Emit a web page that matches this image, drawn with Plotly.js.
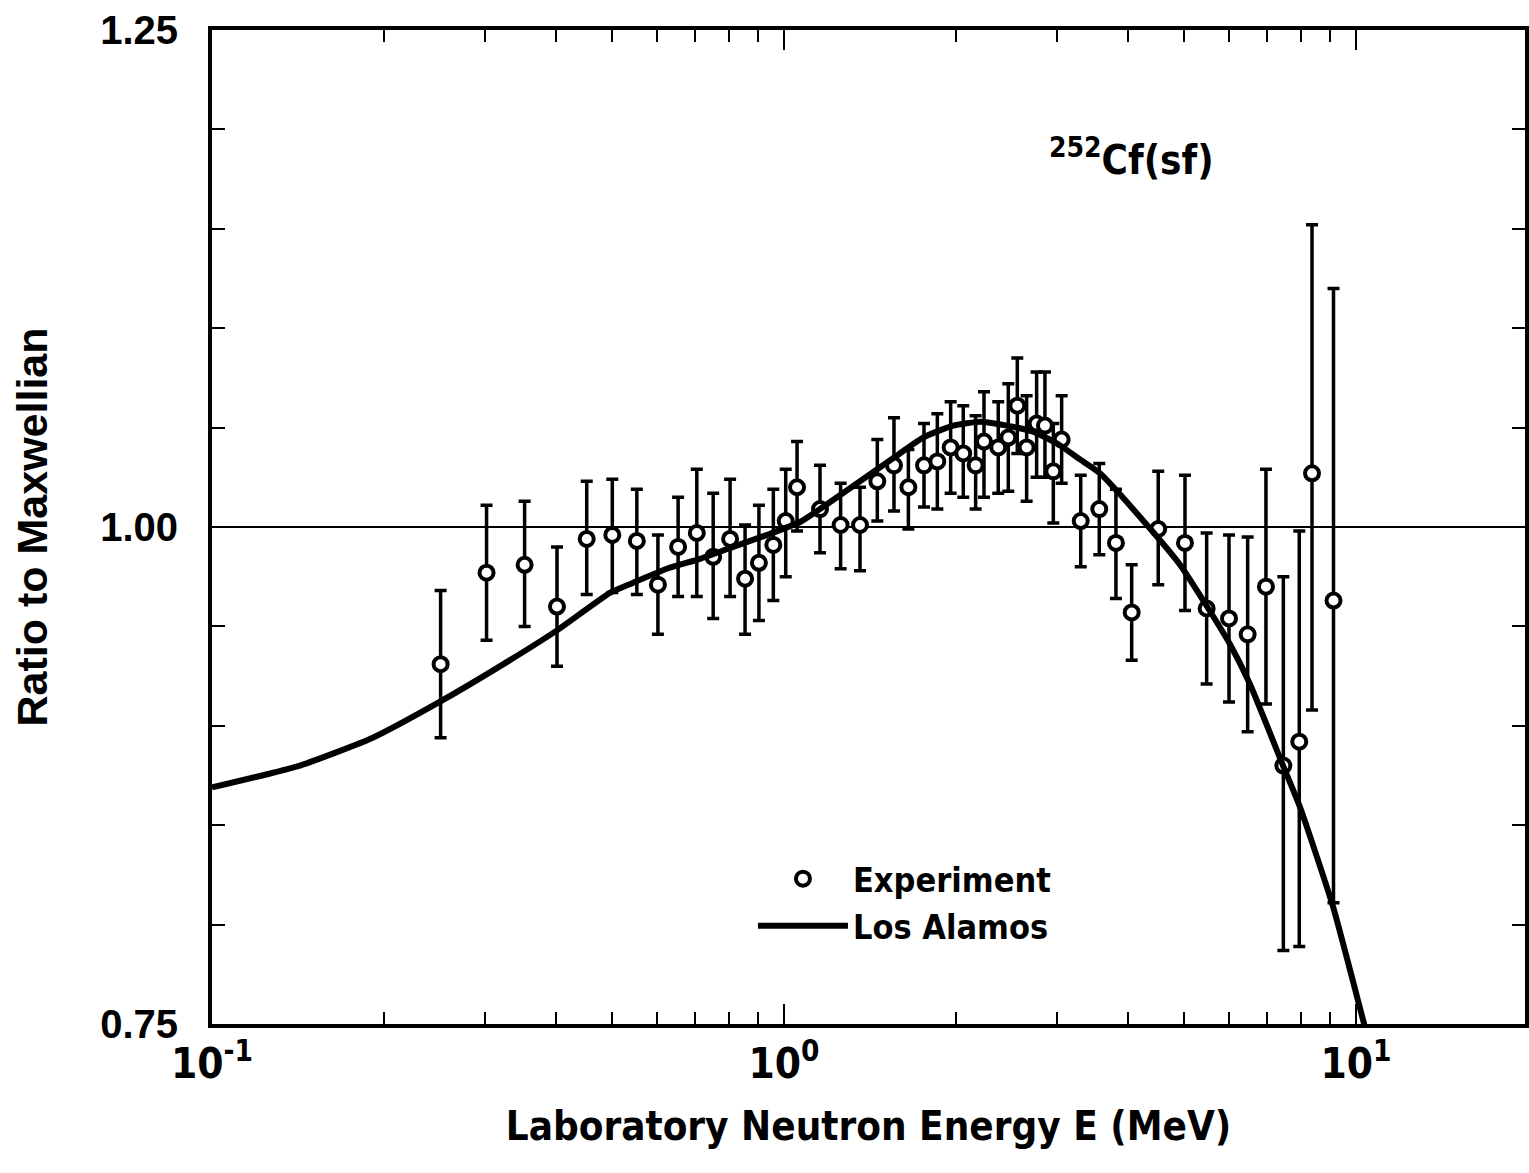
<!DOCTYPE html>
<html>
<head>
<meta charset="utf-8">
<script src="https://cdn.plot.ly/plotly-3.0.1.min.js"></script>
<style>
  html, body { margin: 0; padding: 0; background: #ffffff; }
  #chart { width: 1529px; height: 1173px; }
</style>
</head>
<body>
<div id="chart"></div>
<script>
// Experimental points: laboratory neutron energy (MeV) and ratio to Maxwellian
const energy = [0.251, 0.302, 0.352, 0.401, 0.452, 0.501, 0.553, 0.602, 0.653, 0.704,
  0.752, 0.805, 0.855, 0.904, 0.958, 1.007, 1.054, 1.156, 1.256, 1.358,
  1.456, 1.557, 1.650, 1.757, 1.854, 1.956, 2.058, 2.163, 2.237, 2.369,
  2.467, 2.558, 2.656, 2.765, 2.859, 2.957, 3.058, 3.302, 3.558, 3.805,
  4.054, 4.511, 5.024, 5.482, 5.998, 6.466, 6.960, 7.465, 7.959, 8.378, 9.135];
const ratio = [0.931, 0.977, 0.981, 0.960, 0.994, 0.996, 0.993, 0.971, 0.990, 0.997,
  0.985, 0.994, 0.974, 0.982, 0.991, 1.003, 1.020, 1.009, 1.001, 1.001,
  1.023, 1.031, 1.020, 1.031, 1.033, 1.040, 1.037, 1.031, 1.043, 1.040,
  1.045, 1.061, 1.040, 1.052, 1.051, 1.028, 1.044, 1.003, 1.009, 0.992,
  0.957, 0.999, 0.992, 0.959, 0.954, 0.946, 0.970, 0.880, 0.892, 1.027, 0.963];
const errUp = [0.037, 0.034, 0.032, 0.030, 0.029, 0.028, 0.026, 0.025, 0.025, 0.032,
  0.032, 0.030, 0.027, 0.029, 0.028, 0.026, 0.023, 0.022, 0.021, 0.019,
  0.021, 0.024, 0.019, 0.021, 0.024, 0.023, 0.024, 0.025, 0.025, 0.023,
  0.027, 0.024, 0.026, 0.026, 0.027, 0.024, 0.022, 0.023, 0.023, 0.027,
  0.024, 0.029, 0.034, 0.038, 0.042, 0.049, 0.059, 0.095, 0.106, 0.125, 0.157];
const errDown = [0.037, 0.034, 0.031, 0.030, 0.028, 0.029, 0.027, 0.025, 0.025, 0.032,
  0.031, 0.029, 0.028, 0.029, 0.028, 0.028, 0.022, 0.022, 0.022, 0.023,
  0.020, 0.023, 0.021, 0.021, 0.024, 0.023, 0.022, 0.022, 0.028, 0.023,
  0.027, 0.024, 0.027, 0.027, 0.026, 0.026, 0.022, 0.023, 0.023, 0.028,
  0.024, 0.028, 0.034, 0.038, 0.042, 0.049, 0.059, 0.093, 0.103, 0.119, 0.152];

// Los Alamos model curve
const curveE = [0.100, 0.1425, 0.191, 0.250, 0.319, 0.401, 0.497, 0.545, 0.624, 0.713,
  0.815, 0.934, 1.067, 1.156, 1.358, 1.576, 1.750, 1.975, 2.202, 2.454,
  2.725, 3.002, 3.293, 3.568, 4.311, 4.924, 5.490, 6.022, 6.525, 7.455,
  7.984, 9.118, 10.29, 10.58];
const curveR = [0.869, 0.880, 0.894, 0.912, 0.930, 0.948, 0.967, 0.972, 0.979, 0.984,
  0.990, 0.996, 1.0025, 1.009, 1.023, 1.036, 1.045, 1.051, 1.053, 1.051,
  1.048, 1.042, 1.034, 1.027, 1.001, 0.981, 0.960, 0.941, 0.921, 0.880,
  0.859, 0.809, 0.752, 0.739];

// Axis ticks
const xMajorTicks = [0.1, 1, 10];
const xMajorLabels = ['10<sup>-1</sup>', '10<sup>0</sup>', '10<sup>1</sup>'];
const xMinorTicks = [0.2, 0.3, 0.4, 0.5, 0.6, 0.7, 0.8, 0.9, 2, 3, 4, 5, 6, 7, 8, 9];
const yMajorTicks = [0.75, 1.00, 1.25];
const yMajorLabels = ['0.75', '1.00', '1.25'];

const narrow = 'DejaVu Sans Condensed, Liberation Sans Narrow, Liberation Sans, Arial, sans-serif';
const wide = 'Liberation Sans, Arial, Helvetica, sans-serif';

const traces = [
  {
    x: energy, y: ratio, type: 'scatter', mode: 'markers', name: 'Experiment',
    marker: { symbol: 'circle', size: 14, color: '#fff', line: { width: 4, color: '#000' } },
    error_y: { type: 'data', symmetric: false, array: errUp, arrayminus: errDown,
      color: '#000', thickness: 3.5, width: 6 },
    cliponaxis: true
  },
  {
    x: curveE, y: curveR, type: 'scatter', mode: 'lines', name: 'Los Alamos',
    line: { color: '#000', width: 6, shape: 'spline', smoothing: 0.5 }
  }
];

const layout = {
  width: 1529, height: 1173,
  paper_bgcolor: '#fff', plot_bgcolor: '#fff',
  margin: { l: 212, r: 4, t: 30, b: 149 },
  showlegend: true,
  legend: {
    x: 0.412, y: 0.175, xanchor: 'left', yanchor: 'top',
    bgcolor: 'rgba(0,0,0,0)', borderwidth: 0,
    font: { family: narrow, size: 34, color: '#000', weight: 'bold' },
    itemwidth: 90, tracegroupgap: 4
  },
  xaxis: {
    type: 'log', range: [-1, 1.2955],
    showgrid: false, zeroline: false,
    showline: true, linecolor: '#000', linewidth: 4, mirror: 'allticks',
    ticks: 'inside', ticklen: 20, tickwidth: 2, tickcolor: '#000',
    tickmode: 'array', tickvals: xMajorTicks, ticktext: xMajorLabels,
    tickfont: { family: narrow, size: 42, color: '#000', weight: 'bold' },
    minor: { tickmode: 'array', tickvals: xMinorTicks, ticks: 'inside', ticklen: 12, tickwidth: 2, tickcolor: '#000', showgrid: false },
    title: { text: 'Laboratory Neutron Energy E (MeV)', standoff: 26,
      font: { family: narrow, size: 40, color: '#000', weight: 'bold' } }
  },
  yaxis: {
    range: [0.75, 1.25],
    showgrid: false, zeroline: false,
    showline: true, linecolor: '#000', linewidth: 4, mirror: 'allticks',
    ticks: 'inside', ticklen: 13, tickwidth: 2, tickcolor: '#000',
    tickmode: 'array', tickvals: yMajorTicks, ticktext: yMajorLabels,
    ticklabelstandoff: 22,
    tickfont: { family: wide, size: 40, color: '#000', weight: 'bold' },
    minor: { dtick: 0.05, ticks: 'inside', ticklen: 13, tickwidth: 2, tickcolor: '#000', showgrid: false },
    title: { text: 'Ratio to Maxwellian', standoff: 40,
      font: { family: wide, size: 43, color: '#000', weight: 'bold' } }
  },
  shapes: [
    { type: 'line', xref: 'paper', yref: 'y', x0: 0, x1: 1, y0: 1.0, y1: 1.0,
      line: { color: '#000', width: 2 }, layer: 'below' }
  ],
  annotations: [
    { xref: 'paper', yref: 'paper', x: 0.70, y: 0.872, xanchor: 'center', yanchor: 'middle',
      showarrow: false, text: '<sup>252</sup>Cf(sf)',
      font: { family: narrow, size: 40, color: '#000', weight: 'bold' } }
  ]
};

Plotly.newPlot('chart', traces, layout, { displayModeBar: false, staticPlot: true });
</script>
</body>
</html>
